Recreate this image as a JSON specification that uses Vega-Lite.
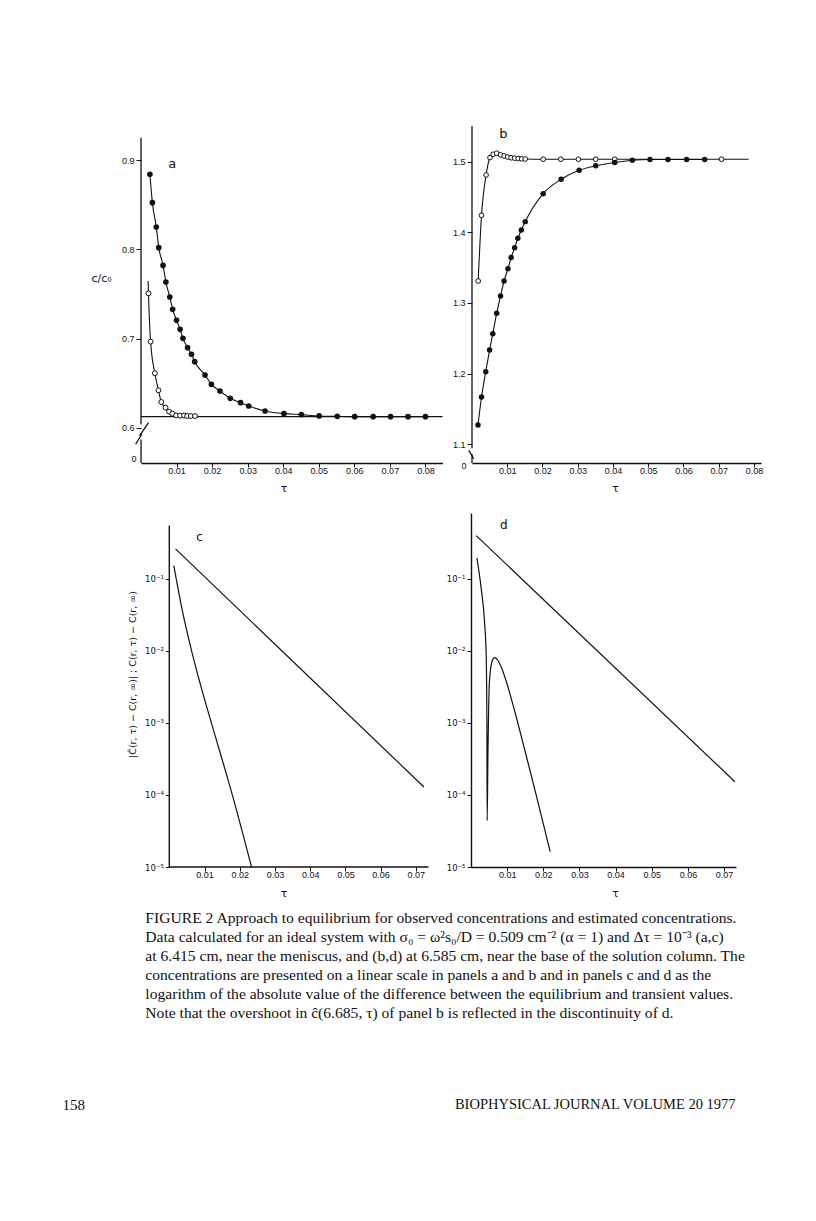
{
 "$schema": "https://vega.github.io/schema/vega-lite/v6.json",
 "background": "white",
 "padding": {"left": 62, "top": 125, "right": 10, "bottom": 10},
 "config": {
  "view": {"stroke": null},
  "axis": {"grid": false, "labelFont": "Liberation Sans", "labelFontSize": 9, "labelColor": "#111", "tickColor": "#111", "domainColor": "#111", "tickSize": 4, "tickWidth": 1, "domainWidth": 1.4, "titleFont": "DejaVu Sans", "titleFontWeight": "normal", "titleColor": "#111", "titleFontSize": 11, "labelPadding": 2}
 },
 "datasets": {
  "a_pts": [
   {"tau":0.0025,"v":0.8843,"s":"f","m":1},{"tau":0.0032,"v":0.8525,"s":"f","m":1},{"tau":0.0043,"v":0.8252,"s":"f","m":1},{"tau":0.0050,"v":0.802,"s":"f","m":1},{"tau":0.0062,"v":0.782,"s":"f","m":1},{"tau":0.0070,"v":0.7634,"s":"f","m":1},{"tau":0.0081,"v":0.7466,"s":"f","m":1},{"tau":0.0089,"v":0.7328,"s":"f","m":1},{"tau":0.0100,"v":0.7204,"s":"f","m":1},{"tau":0.0110,"v":0.7103,"s":"f","m":1},{"tau":0.0118,"v":0.7002,"s":"f","m":1},{"tau":0.0131,"v":0.6897,"s":"f","m":1},{"tau":0.0142,"v":0.6823,"s":"f","m":1},{"tau":0.0151,"v":0.674,"s":"f","m":1},{"tau":0.0180,"v":0.659,"s":"f","m":1},{"tau":0.0198,"v":0.6486,"s":"f","m":1},{"tau":0.0222,"v":0.6411,"s":"f","m":1},{"tau":0.0251,"v":0.6329,"s":"f","m":1},{"tau":0.0280,"v":0.628,"s":"f","m":1},{"tau":0.0303,"v":0.6243,"s":"f","m":1},{"tau":0.0349,"v":0.6187,"s":"f","m":1},{"tau":0.0402,"v":0.6157,"s":"f","m":1},{"tau":0.0451,"v":0.6146,"s":"f","m":1},{"tau":0.0501,"v":0.6131,"s":"f","m":1},{"tau":0.0552,"v":0.6127,"s":"f","m":1},{"tau":0.0601,"v":0.6123,"s":"f","m":1},{"tau":0.0653,"v":0.6123,"s":"f","m":1},{"tau":0.0702,"v":0.6123,"s":"f","m":1},{"tau":0.0751,"v":0.6123,"s":"f","m":1},{"tau":0.0800,"v":0.6123,"s":"f","m":1},
   {"tau":0.0020,"v":0.7646,"s":"o","m":0},{"tau":0.0021,"v":0.7507,"s":"o","m":1},{"tau":0.0027,"v":0.6965,"s":"o","m":1},{"tau":0.0039,"v":0.661,"s":"o","m":1},{"tau":0.0049,"v":0.6419,"s":"o","m":1},{"tau":0.0057,"v":0.6288,"s":"o","m":1},{"tau":0.0069,"v":0.6224,"s":"o","m":1},{"tau":0.0079,"v":0.6179,"s":"o","m":1},{"tau":0.0088,"v":0.6157,"s":"o","m":1},{"tau":0.0099,"v":0.6138,"s":"o","m":1},{"tau":0.0110,"v":0.6134,"s":"o","m":1},{"tau":0.0121,"v":0.6136,"s":"o","m":1},{"tau":0.0130,"v":0.613,"s":"o","m":1},{"tau":0.0140,"v":0.613,"s":"o","m":1},{"tau":0.0152,"v":0.613,"s":"o","m":1}
  ],
  "a_rules": [
   {"tau":0,"tau2":0,"v":0.6038,"v2":0.9254},{"tau":0,"tau2":0,"v":0.5603,"v2":0.5868},{"tau":-0.0004,"tau2":0.0021,"v":0.5907,"v2":0.6056},{"tau":-0.0015,"tau2":0.0002,"v":0.5813,"v2":0.5926},{"tau":0,"tau2":0.0848,"v":0.6123,"v2":0.6123}
  ],
  "a_txt": [{"tau":0.0088,"v":0.8958,"t":"a","k":"letter"},{"tau":-0.00124,"v":0.5648,"t":"0","k":"zero"}],
  "b_pts": [
   {"tau":0.0017,"v":1.1274,"s":"f","m":1},{"tau":0.0027,"v":1.167,"s":"f","m":1},{"tau":0.0039,"v":1.2028,"s":"f","m":1},{"tau":0.0050,"v":1.2335,"s":"f","m":1},{"tau":0.0059,"v":1.2566,"s":"f","m":1},{"tau":0.0070,"v":1.2854,"s":"f","m":1},{"tau":0.0081,"v":1.3099,"s":"f","m":1},{"tau":0.0091,"v":1.3311,"s":"f","m":1},{"tau":0.0102,"v":1.3486,"s":"f","m":1},{"tau":0.0111,"v":1.3642,"s":"f","m":1},{"tau":0.0121,"v":1.3783,"s":"f","m":1},{"tau":0.0130,"v":1.3915,"s":"f","m":1},{"tau":0.0140,"v":1.4033,"s":"f","m":1},{"tau":0.0151,"v":1.4151,"s":"f","m":1},{"tau":0.0202,"v":1.4547,"s":"f","m":1},{"tau":0.0253,"v":1.475,"s":"f","m":1},{"tau":0.0304,"v":1.4877,"s":"f","m":1},{"tau":0.0351,"v":1.494,"s":"f","m":1},{"tau":0.0405,"v":1.4986,"s":"f","m":1},{"tau":0.0455,"v":1.502,"s":"f","m":1},{"tau":0.0505,"v":1.503,"s":"f","m":1},{"tau":0.0556,"v":1.503,"s":"f","m":1},{"tau":0.0609,"v":1.503,"s":"f","m":1},{"tau":0.0660,"v":1.503,"s":"f","m":1},
   {"tau":0.00175,"v":1.3311,"s":"o","m":1},{"tau":0.0027,"v":1.424,"s":"o","m":1},{"tau":0.0040,"v":1.4811,"s":"o","m":1},{"tau":0.0051,"v":1.5057,"s":"o","m":1},{"tau":0.0060,"v":1.5104,"s":"o","m":1},{"tau":0.0070,"v":1.5118,"s":"o","m":1},{"tau":0.0081,"v":1.5095,"s":"o","m":1},{"tau":0.0091,"v":1.508,"s":"o","m":1},{"tau":0.0101,"v":1.5065,"s":"o","m":1},{"tau":0.0111,"v":1.5055,"s":"o","m":1},{"tau":0.0121,"v":1.5048,"s":"o","m":1},{"tau":0.0131,"v":1.5043,"s":"o","m":1},{"tau":0.0141,"v":1.504,"s":"o","m":1},{"tau":0.0151,"v":1.5037,"s":"o","m":1},{"tau":0.0202,"v":1.5034,"s":"o","m":1},{"tau":0.0252,"v":1.5034,"s":"o","m":1},{"tau":0.0302,"v":1.5034,"s":"o","m":1},{"tau":0.0351,"v":1.5034,"s":"o","m":1},{"tau":0.0405,"v":1.5034,"s":"o","m":1},{"tau":0.0708,"v":1.5034,"s":"o","m":1},{"tau":0.0785,"v":1.5034,"s":"o","m":0}
  ],
  "b_rules": [
   {"tau":0,"tau2":0,"v":1.0944,"v2":1.5504},{"tau":0,"tau2":0,"v":1.0736,"v2":1.086},{"tau":-0.0009,"tau2":0.0005,"v":1.0915,"v2":1.0796}
  ],
  "b_txt": [{"tau":0.0089,"v":1.539,"t":"b","k":"letter"},{"tau":-0.00156,"v":1.0693,"t":"0","k":"zero"}],
  "c_lines": [
   {"tau":0.00176,"v":0.2606,"s":"s"},{"tau":0.0723,"v":0.000129,"s":"s"},
   {"tau":0.00128,"v":0.1528,"s":"c"},{"tau":0.00358,"v":0.0387,"s":"c"},{"tau":0.00636,"v":0.00982,"s":"c"},{"tau":0.01009,"v":0.00205,"s":"c"},{"tau":0.01207,"v":0.000953,"s":"c"},{"tau":0.01801,"v":0.0000955,"s":"c"},{"tau":0.02335,"v":0.00001,"s":"c"}
  ],
  "c_rules": [{"tau":0,"tau2":0,"v":0.00001,"v2":0.548},{"tau":0,"tau2":0.0736,"v":0.00001,"v2":0.00001}],
  "c_txt": [{"tau":0.0086,"v":0.3775,"t":"c"}],
  "d_lines": [
   {"tau":0.00144,"v":0.398,"s":"s"},{"tau":0.073,"v":0.0001524,"s":"s"},
   {"tau":0.00163,"v":0.1954,"s":"c"},{"tau":0.0028,"v":0.075,"s":"c"},{"tau":0.00373,"v":0.0259,"s":"c"},{"tau":0.0042,"v":0.00891,"s":"c"},{"tau":0.00439,"v":0.00107,"s":"c"},{"tau":0.00448,"v":0.000044,"s":"c"},{"tau":0.00467,"v":0.000314,"s":"c"},{"tau":0.00511,"v":0.00382,"s":"c"},{"tau":0.00586,"v":0.00723,"s":"c"},{"tau":0.0065,"v":0.00805,"s":"c"},{"tau":0.0075,"v":0.00729,"s":"c"},{"tau":0.0085,"v":0.00574,"s":"c"},{"tau":0.0100,"v":0.00344,"s":"c"},{"tau":0.0120,"v":0.00151,"s":"c"},{"tau":0.0150,"v":0.000398,"s":"c"},{"tau":0.0180,"v":0.000101,"s":"c"},{"tau":0.0219,"v":0.0000163,"s":"c"}
  ],
  "d_txt": [{"tau":0.0091,"v":0.565,"t":"d"}],
  "caption": [
   {"kind":"cap","line":1,"col":0.007,"t":"FIGURE 2   Approach to equilibrium for observed concentrations and estimated concentrations."},
   {"kind":"cap","line":2,"col":0.007,"t":"Data calculated for an ideal system with σ₀ = ω²s₀/D = 0.509 cm⁻² (α = 1) and Δτ = 10⁻³ (a,c)"},
   {"kind":"cap","line":3,"col":0.007,"t":"at 6.415 cm, near the meniscus, and (b,d) at 6.585 cm, near the base of the solution column.  The"},
   {"kind":"cap","line":4,"col":0.007,"t":"concentrations are presented on a linear scale in panels a and b and in panels c and d as the"},
   {"kind":"cap","line":5,"col":0.007,"t":"logarithm of the absolute value of the difference between the equilibrium and transient values."},
   {"kind":"cap","line":6,"col":0.007,"t":"Note that the overshoot in ĉ(6.685, τ) of panel b is reflected in the discontinuity of d."},
   {"kind":"left","line":10.842,"col":-0.1267,"t":"158"},
   {"kind":"right","line":10.842,"col":0.9597,"t":"BIOPHYSICAL JOURNAL   VOLUME 20   1977"}
  ]
 },
 "spacing": 13,
 "vconcat": [
  {
   "spacing": 20,
   "vconcat": [
    {
     "spacing": 29,
     "bounds": "flush",
     "hconcat": [
      {
       "width": 301.5, "height": 337,
       "encoding": {
        "x": {"field": "tau", "type": "quantitative", "scale": {"domain": [0, 0.0848]}, "axis": {"values": [0.01,0.02,0.03,0.04,0.05,0.06,0.07,0.08], "format": ".2f", "title": "τ", "titleX": 142.5, "titleY": 25, "titleBaseline": "middle", "labelPadding": -1}},
        "y": {"field": "v", "type": "quantitative", "scale": {"domain": [0.5603, 0.9385]}, "axis": {"values": [0.6,0.7,0.8,0.9], "format": ".1f", "title": "c/c₀", "titleAngle": 0, "titleX": -40, "titleY": 152, "titleAlign": "center", "titleBaseline": "middle", "domain": false, "tickSize": 5}}
       },
       "layer": [
        {"data": {"name": "a_rules"}, "mark": {"type": "rule", "color": "#111", "strokeWidth": 1.3}, "encoding": {"x2": {"field": "tau2"}, "y2": {"field": "v2"}}},
        {"data": {"name": "a_pts"}, "mark": {"type": "line", "interpolate": "monotone", "color": "#111", "strokeWidth": 1.1}, "encoding": {"detail": {"field": "s"}}},
        {"data": {"name": "a_pts"}, "transform": [{"filter": "datum.m == 1 && datum.s == 'f'"}], "mark": {"type": "circle", "size": 32, "color": "#111", "opacity": 1}, "encoding": {}},
        {"data": {"name": "a_pts"}, "transform": [{"filter": "datum.m == 1 && datum.s == 'o'"}], "mark": {"type": "point", "shape": "circle", "size": 24, "fill": "white", "stroke": "#111", "strokeWidth": 1, "opacity": 1, "filled": false}, "encoding": {}},
        {"data": {"name": "a_txt"}, "transform": [{"filter": "datum.k == 'letter'"}], "mark": {"type": "text", "font": "DejaVu Sans", "fontSize": 13, "color": "#111", "baseline": "middle"}, "encoding": {"text": {"field": "t"}}},
        {"data": {"name": "a_txt"}, "transform": [{"filter": "datum.k == 'zero'"}], "mark": {"type": "text", "font": "Liberation Sans", "fontSize": 9, "color": "#111", "align": "right", "baseline": "middle"}, "encoding": {"text": {"field": "t"}}}
       ]
      },
      {
       "width": 289, "height": 337,
       "encoding": {
        "x": {"field": "tau", "type": "quantitative", "scale": {"domain": [0, 0.082]}, "axis": {"values": [0.01,0.02,0.03,0.04,0.05,0.06,0.07,0.08], "format": ".2f", "title": "τ", "titleX": 143, "titleY": 25, "titleBaseline": "middle", "labelPadding": -1}},
        "y": {"field": "v", "type": "quantitative", "scale": {"domain": [1.0736, 1.5504]}, "axis": {"values": [1.1,1.2,1.3,1.4,1.5], "format": ".1f", "title": null, "domain": false, "tickSize": 5}}
       },
       "layer": [
        {"data": {"name": "b_rules"}, "mark": {"type": "rule", "color": "#111", "strokeWidth": 1.3}, "encoding": {"x2": {"field": "tau2"}, "y2": {"field": "v2"}}},
        {"data": {"name": "b_pts"}, "mark": {"type": "line", "interpolate": "monotone", "color": "#111", "strokeWidth": 1.1}, "encoding": {"detail": {"field": "s"}}},
        {"data": {"name": "b_pts"}, "transform": [{"filter": "datum.m == 1 && datum.s == 'o'"}], "mark": {"type": "point", "shape": "circle", "size": 22, "fill": "white", "stroke": "#111", "strokeWidth": 1, "opacity": 1, "filled": false}, "encoding": {}},
        {"data": {"name": "b_pts"}, "transform": [{"filter": "datum.m == 1 && datum.s == 'f'"}], "mark": {"type": "circle", "size": 30, "color": "#111", "opacity": 1}, "encoding": {}},
        {"data": {"name": "b_txt"}, "transform": [{"filter": "datum.k == 'letter'"}], "mark": {"type": "text", "font": "DejaVu Sans", "fontSize": 13, "color": "#111", "baseline": "middle"}, "encoding": {"text": {"field": "t"}}},
        {"data": {"name": "b_txt"}, "transform": [{"filter": "datum.k == 'zero'"}], "mark": {"type": "text", "font": "Liberation Sans", "fontSize": 9, "color": "#111", "align": "right", "baseline": "middle"}, "encoding": {"text": {"field": "t"}}}
       ]
      }
     ]
    },
    {
     "spacing": 42,
     "bounds": "flush",
     "hconcat": [
      {
       "width": 287.5, "height": 354,
       "encoding": {
        "x": {"field": "tau", "type": "quantitative", "scale": {"domain": [-0.00804, 0.0736]}, "axis": {"values": [0.01,0.02,0.03,0.04,0.05,0.06,0.07], "format": ".2f", "title": "τ", "titleX": 142.5, "titleY": 26, "titleBaseline": "middle", "labelPadding": -1, "domain": false}},
        "y": {"field": "v", "type": "quantitative", "scale": {"type": "log", "domain": [0.00001, 0.82]}, "axis": {"values": [0.1,0.01,0.001,0.0001,0.00001], "labelExpr": "datum.value > 0.05 ? '10⁻¹' : datum.value > 0.005 ? '10⁻²' : datum.value > 0.0005 ? '10⁻³' : datum.value > 0.00005 ? '10⁻⁴' : '10⁻⁵'", "labelFont": "DejaVu Sans", "labelFontSize": 8.5, "offset": -28.3, "domain": false, "title": "|Ĉ(r, τ) − C(r, ∞)| ;  C(r, τ) − C(r, ∞)", "titleFontSize": 9.5, "titleX": -37, "titleY": 161, "titleAlign": "center", "titleBaseline": "middle", "titleAngle": -90}}
       },
       "layer": [
        {"data": {"name": "c_rules"}, "mark": {"type": "rule", "color": "#111", "strokeWidth": 1.4}, "encoding": {"x2": {"field": "tau2"}, "y2": {"field": "v2"}}},
        {"data": {"name": "c_lines"}, "mark": {"type": "line", "interpolate": "monotone", "color": "#111", "strokeWidth": 1.2}, "encoding": {"detail": {"field": "s"}}},
        {"data": {"name": "c_txt"}, "mark": {"type": "text", "font": "DejaVu Sans", "fontSize": 12, "color": "#111", "baseline": "middle"}, "encoding": {"text": {"field": "t"}}}
       ]
      },
      {
       "width": 265, "height": 354,
       "encoding": {
        "x": {"field": "tau", "type": "quantitative", "scale": {"domain": [0, 0.0733]}, "axis": {"values": [0.01,0.02,0.03,0.04,0.05,0.06,0.07], "format": ".2f", "title": "τ", "titleX": 144, "titleY": 26, "titleBaseline": "middle", "labelPadding": -1}},
        "y": {"field": "v", "type": "quantitative", "scale": {"type": "log", "domain": [0.00001, 0.82]}, "axis": {"values": [0.1,0.01,0.001,0.0001,0.00001], "labelExpr": "datum.value > 0.05 ? '10⁻¹' : datum.value > 0.005 ? '10⁻²' : datum.value > 0.0005 ? '10⁻³' : datum.value > 0.00005 ? '10⁻⁴' : '10⁻⁵'", "labelFont": "DejaVu Sans", "labelFontSize": 8.5, "title": null}}
       },
       "layer": [
        {"data": {"name": "d_lines"}, "mark": {"type": "line", "interpolate": "monotone", "color": "#111", "strokeWidth": 1.2}, "encoding": {"detail": {"field": "s"}}},
        {"data": {"name": "d_txt"}, "mark": {"type": "text", "font": "DejaVu Sans", "fontSize": 12, "color": "#111", "baseline": "middle"}, "encoding": {"text": {"field": "t"}}}
       ]
      }
     ]
    }
   ]
  },
  {
   "width": 619.5, "height": 210,
   "data": {"name": "caption"},
   "encoding": {
    "x": {"field": "col", "type": "quantitative", "scale": {"domain": [0, 1]}, "axis": null},
    "y": {"field": "line", "type": "quantitative", "scale": {"domain": [1.0526, 12.105], "reverse": true}, "axis": null},
    "text": {"field": "t"}
   },
   "layer": [
    {"transform": [{"filter": "datum.kind == 'cap'"}], "mark": {"type": "text", "align": "left", "baseline": "middle", "font": "Liberation Serif", "fontSize": 15.6, "color": "#111"}},
    {"transform": [{"filter": "datum.kind == 'left'"}], "mark": {"type": "text", "align": "left", "baseline": "middle", "font": "Liberation Serif", "fontSize": 15, "color": "#111"}},
    {"transform": [{"filter": "datum.kind == 'right'"}], "mark": {"type": "text", "align": "right", "baseline": "middle", "font": "Liberation Serif", "fontSize": 14.5, "color": "#111"}}
   ]
  }
 ]
}
